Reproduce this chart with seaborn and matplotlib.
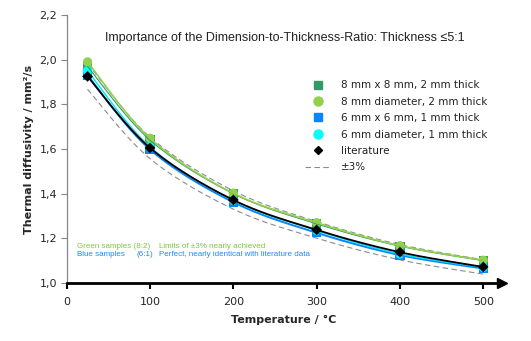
import numpy as np
import pandas as pd
import matplotlib
matplotlib.use("Agg")
import matplotlib.pyplot as plt
import seaborn as sns
from matplotlib.lines import Line2D
from matplotlib.ticker import FuncFormatter

temperature = [25, 100, 200, 300, 400, 500]
sq8_2 = [1.97, 1.64, 1.40, 1.265, 1.165, 1.10]
circ8_2 = [1.99, 1.648, 1.402, 1.27, 1.167, 1.102]
sq6_1 = [1.93, 1.598, 1.362, 1.225, 1.125, 1.065]
circ6_1 = [1.95, 1.61, 1.37, 1.235, 1.13, 1.07]
literature = [1.925, 1.605, 1.372, 1.238, 1.138, 1.072]

labels = ["8 mm x 8 mm, 2 mm thick", "8 mm diameter, 2 mm thick",
          "6 mm x 6 mm, 1 mm thick", "6 mm diameter, 1 mm thick", "literature"]
tol_label = "\u00b13%"
title = "Importance of the Dimension-to-Thickness-Ratio: Thickness \u22645:1"

sns.set_theme(style="white")
plt.rcParams['font.family'] = ['DejaVu Sans']

fig = plt.figure(figsize=(5.31, 3.41), dpi=100)
ax = fig.add_axes([0.1256, 0.170, 0.819, 0.786])


def smooth(x, y, n=40):
    """Excel-like smoothed line (Catmull-Rom Bezier) through the points."""
    P = np.column_stack([np.asarray(x, float), np.asarray(y, float)])
    m = len(P)
    out = []
    t = np.linspace(0, 1, n)[:, None]
    for i in range(m - 1):
        p0 = P[i - 1] if i > 0 else P[i]
        p1, p2 = P[i], P[i + 1]
        p3 = P[i + 2] if i + 2 < m else P[i + 1]
        c1 = p1 + (p2 - p0) / 6
        c2 = p2 - (p3 - p1) / 6
        seg = ((1 - t) ** 3) * p1 + 3 * ((1 - t) ** 2) * t * c1 + 3 * (1 - t) * t ** 2 * c2 + t ** 3 * p2
        out.append(seg if i == 0 else seg[1:])
    out = np.vstack(out)
    return out[:, 0], out[:, 1]


series = [
    (sq8_2, "#339966", "s", "#339966", 0.8),
    (circ8_2, "#92D050", "o", "#92D050", 1.2),
    (sq6_1, "#0A84FF", "s", "#0A84FF", 1.4),
    (circ6_1, "#00FFFF", "o", "#00E5F0", 1.0),
    (literature, "black", "D", "black", 1.3),
]

# tolerance band (+-3% of literature)
lit_hi = [v * 1.03 for v in literature]
lit_lo = [v * 0.97 for v in literature]
for band in (lit_hi, lit_lo):
    xs, ys = smooth(temperature, band)
    sns.lineplot(x=xs, y=ys, ax=ax, color="#8c8c8c", lw=0.8, sort=False,
                 linestyle=(0, (5, 3)), zorder=2)

for vals, col, mk, lcol, lw in series:
    df = pd.DataFrame({"T": temperature, "v": vals})
    ms = 45 if mk != "D" else 30
    sns.scatterplot(data=df, x="T", y="v", ax=ax, color=col, marker=mk, s=ms,
                    edgecolor="none", linewidth=0, zorder=3 if mk != "D" else 5)
for vals, col, mk, lcol, lw in series:
    xs, ys = smooth(temperature, vals)
    sns.lineplot(x=xs, y=ys, ax=ax, color=lcol, lw=lw, sort=False, zorder=4)

ax.set_xlim(0, 522)
ax.set_ylim(1.0, 2.2)
ax.set_xticks([0, 100, 200, 300, 400, 500])
ax.set_yticks([1.0, 1.2, 1.4, 1.6, 1.8, 2.0, 2.2])
ax.yaxis.set_major_formatter(FuncFormatter(lambda v, p: f"{v:.1f}".replace(".", ",")))
ax.tick_params(axis="y", direction="out", length=4, width=0.8, color="#868686",
               labelsize=8, pad=3, left=True)
ax.tick_params(axis="x", direction="out", length=4, width=1.5, color="black",
               labelsize=8, pad=6, bottom=True)
for s in ["top", "right"]:
    ax.spines[s].set_visible(False)
ax.spines["left"].set_color("#868686")
ax.spines["left"].set_linewidth(0.9)
ax.spines["bottom"].set_color("black")
ax.spines["bottom"].set_linewidth(2)
ax.plot(1.0, 0, marker=">", color="black", markersize=7, transform=ax.transAxes,
        clip_on=False, zorder=10)

ax.set_xlabel("Temperature / \u00b0C", fontsize=8, fontweight="bold", labelpad=6)
ax.set_ylabel("Thermal diffusivity / mm\u00b2/s", fontsize=8, fontweight="bold", labelpad=4)

fig.text(0.537, 0.889, title, ha="center", va="center", fontsize=9,
         family="Liberation Sans", color="#222222")

# annotations
tf = dict(fontsize=5.8, family="Liberation Sans", va="center")
fig.text(77 / 531, 1 - 246 / 341, "Green samples (8:2)", color="#7DC83C", **tf)
fig.text(159 / 531, 1 - 246 / 341, "Limits of \u00b13% nearly achieved", color="#7DC83C", **tf)
fig.text(77 / 531, 1 - 255 / 341, "Blue samples", color="#1E88FF", **tf)
fig.text(137 / 531, 1 - 255 / 341, "(6:1)", color="#1E88FF", **tf)
fig.text(159 / 531, 1 - 255 / 341, "Perfect, nearly identical with literature data", color="#1E88FF", **tf)

handles = [
    Line2D([], [], ls="none", marker="s", color="#339966", markersize=6),
    Line2D([], [], ls="none", marker="o", color="#92D050", markersize=6.5),
    Line2D([], [], ls="none", marker="s", color="#0A84FF", markersize=6),
    Line2D([], [], ls="none", marker="o", color="#00FFFF", markersize=6.5),
    Line2D([], [], ls="none", marker="D", color="black", markersize=4.5),
    Line2D([], [], ls=(0, (5, 3)), color="#8c8c8c", lw=0.8),
]
leg = ax.legend(handles, labels + [tol_label], loc="upper left",
                bbox_to_anchor=(301 / 531, 1 - 76 / 341), bbox_transform=fig.transFigure,
                frameon=False, fontsize=7.5, handlelength=2.5, handletextpad=0.9,
                labelspacing=0.62, borderaxespad=0)
for t in leg.get_texts():
    t.set_color("#222222")

fig.savefig("out.png", dpi=100)
